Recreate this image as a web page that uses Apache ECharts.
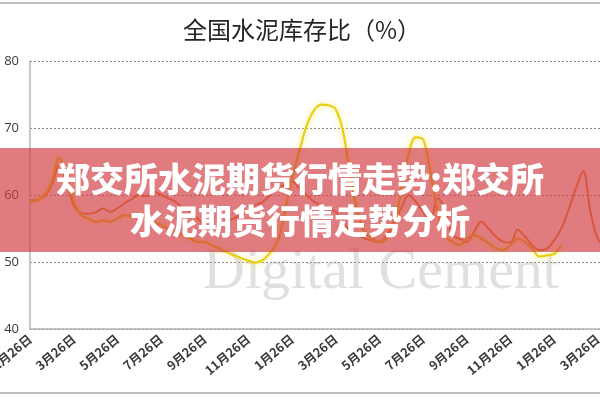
<!DOCTYPE html>
<html><head><meta charset="utf-8">
<script src="https://cdn.jsdelivr.net/npm/echarts@6/dist/echarts.min.js"></script>
<style>html,body{margin:0;padding:0;background:#fff}#c{width:600px;height:400px}</style>
</head><body><div id="c"></div>
<script>
const categories = ("1月26日,2月6日,2月16日,2月26日,3月6日,3月16日,3月26日,4月6日,4月16日,4月26日," +
  "5月6日,5月16日,5月26日,6月6日,6月16日,6月26日,7月6日,7月16日,7月26日,8月6日," +
  "8月16日,8月26日,9月6日,9月16日,9月26日,10月6日,10月16日,10月26日,11月6日,11月16日," +
  "11月26日,12月6日,12月16日,12月26日,1月6日,1月16日,1月26日,2月6日,2月16日,2月26日," +
  "3月6日,3月16日,3月26日,4月6日,4月16日,4月26日,5月6日,5月16日,5月26日,6月6日," +
  "6月16日,6月26日,7月6日,7月16日,7月26日,8月6日,8月16日,8月26日,9月6日,9月16日," +
  "9月26日,10月6日,10月16日,10月26日,11月6日,11月16日,11月26日,12月6日,12月16日,12月26日," +
  "1月6日,1月16日,1月26日,2月6日,2月16日,2月26日,3月6日,3月16日,3月26日,4月6日").split(",");

const seriesOrange = [59.2,59.3,59.8,61.5,64.5,62.0,58.5,57.3,57.2,57.4,
  58.0,57.5,58.0,58.8,59.4,60.0,59.8,60.5,60.0,59.5,
  59.0,58.0,57.5,56.5,55.5,55.0,55.5,56.0,56.5,57.0,
  57.5,58.5,59.0,60.0,61.0,61.5,62.0,61.0,60.0,59.0,
  58.5,58.0,57.5,56.0,54.5,54.0,53.5,53.2,53.0,54.0,
  56.0,58.0,60.0,59.0,57.5,56.0,59.5,58.0,54.0,53.5,
  53.0,54.5,56.0,55.0,53.8,53.0,52.9,54.8,53.8,52.5,
  51.8,52.0,53.2,55.0,57.8,61.0,63.6,57.5,53.5,52.5];

const seriesYellow = [59.0,59.2,60.0,62.0,65.5,63.0,59.0,57.0,56.5,56.0,
  56.2,56.0,56.5,57.0,56.8,57.0,56.5,56.0,55.5,55.0,
  54.5,54.0,53.5,53.0,53.0,52.5,52.0,51.5,51.0,50.6,
  50.2,49.9,50.3,51.4,53.0,57.5,62.5,66.5,70.3,72.6,
  73.5,73.4,72.8,69.5,63.0,57.5,54.5,53.5,53.0,53.5,
  55.5,60.5,66.0,68.6,68.3,63.5,57.5,54.0,53.0,52.5,
  53.5,54.0,53.5,52.8,52.0,51.8,52.5,53.5,53.0,52.0,
  50.8,51.0,51.2,52.5,null,null,null,null,null,null];

const yMin = 40, yMax = 80, yStep = 10;

const chart = echarts.init(document.getElementById('c'));
chart.setOption({
  animation: false,
  title: {
    text: '全国水泥库存比（%）',
    left: 178, top: 13,
    textStyle: { fontFamily: 'Noto Sans CJK SC', fontSize: 24, fontWeight: 'normal', color: '#262626' }
  },
  grid: { left: 30, right: -5, top: 61, bottom: 71, outerBoundsMode: 'none', containLabel: false },
  xAxis: {
    type: 'category', data: categories, boundaryGap: false,
    axisLine: { lineStyle: { color: '#b4b4b4', width: 1.5 } },
    axisTick: { show: false },
    axisLabel: { interval: 5, rotate: 40, fontSize: 12.5, color: '#3a3a3a', margin: 8,
      fontFamily: 'Noto Sans CJK SC', fontWeight: 'bold', hideOverlap: false },
    splitLine: { show: false }
  },
  yAxis: {
    type: 'value', min: yMin, max: yMax, interval: yStep,
    axisLine: { show: true, lineStyle: { color: '#b4b4b4', width: 1.5 } },
    axisTick: { show: false },
    axisLabel: { fontSize: 13, color: '#3a3a3a', margin: 11, fontFamily: 'Open Sans' },
    splitLine: { lineStyle: { type: [2, 2], color: '#8c8c8c', width: 1 } }
  },
  series: [
    { name: '橙线', type: 'line', data: seriesOrange, symbol: 'none', smooth: 0.35, z: 3,
      lineStyle: { color: '#e9862c', width: 2 } },
    { name: '黄线', type: 'line', data: seriesYellow, symbol: 'none', smooth: 0.35, z: 4,
      lineStyle: { color: '#e9cf12', width: 2.2, shadowColor: 'rgba(245,230,90,0.9)', shadowBlur: 6 } }
  ],
  graphic: [
    { type: 'text', z: 1, style: { text: 'Digital Cement', x: 203, y: 273, font: '58px "Liberation Serif"',
        fill: 'rgba(165,165,165,0.34)', verticalAlign: 'middle' } },
    { type: 'line', z: 50, shape: { x1: 0, y1: 3, x2: 600, y2: 3 }, style: { stroke: '#a8a8a8', lineWidth: 1.5 } },
    { type: 'line', z: 50, shape: { x1: 0, y1: 393, x2: 600, y2: 393 }, style: { stroke: '#a8a8a8', lineWidth: 1.5 } },
    { type: 'rect', z: 100, shape: { x: 0, y: 148, width: 600, height: 104 },
      style: { fill: 'rgba(210,62,66,0.68)' } },
    { type: 'text', z: 101, style: { text: '郑交所水泥期货行情走势:郑交所', x: 300, y: 179,
        align: 'center', verticalAlign: 'middle', fill: '#ffffff',
        font: '900 34px "Noto Sans CJK SC"', shadowColor: 'rgba(120,20,20,0.4)', shadowBlur: 3 } },
    { type: 'text', z: 101, style: { text: '水泥期货行情走势分析', x: 300, y: 221,
        align: 'center', verticalAlign: 'middle', fill: '#ffffff',
        font: '900 34px "Noto Sans CJK SC"', shadowColor: 'rgba(120,20,20,0.4)', shadowBlur: 3 } }
  ]
});
</script></body></html>
